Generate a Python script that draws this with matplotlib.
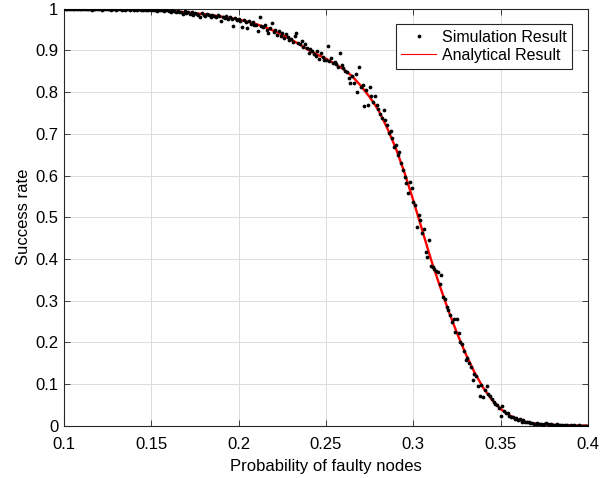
import numpy as np
import matplotlib
matplotlib.use("Agg")
import matplotlib.pyplot as plt
from matplotlib.lines import Line2D

plt.rcParams['font.family'] = ['Liberation Sans', 'DejaVu Sans']

# Analytical curve (read every 0.005)
ana_x = [0.100, 0.105, 0.110, 0.115, 0.120, 0.125, 0.130, 0.135, 0.140, 0.145,
         0.150, 0.155, 0.160, 0.165, 0.170, 0.175, 0.180, 0.185, 0.190, 0.195,
         0.200, 0.205, 0.210, 0.215, 0.220, 0.225, 0.230, 0.235, 0.240, 0.245,
         0.250, 0.255, 0.260, 0.265, 0.270, 0.275, 0.280, 0.285, 0.290, 0.295,
         0.300, 0.305, 0.310, 0.315, 0.320, 0.325, 0.330, 0.335, 0.340, 0.345,
         0.350, 0.355, 0.360, 0.365, 0.370, 0.375, 0.380, 0.385, 0.390, 0.395,
         0.400]
ana_y = [1.000, 1.000, 1.000, 1.000, 1.000, 0.999, 0.999, 0.999, 0.998, 0.998,
         0.997, 0.996, 0.995, 0.993, 0.991, 0.989, 0.987, 0.984, 0.981, 0.978,
         0.974, 0.969, 0.963, 0.956, 0.947, 0.937, 0.926, 0.914, 0.901, 0.890,
         0.880, 0.868, 0.855, 0.838, 0.815, 0.788, 0.757, 0.714, 0.665, 0.606,
         0.540, 0.470, 0.400, 0.337, 0.277, 0.222, 0.172, 0.128, 0.091, 0.062,
         0.040, 0.025, 0.015, 0.008, 0.005, 0.003, 0.002, 0.001, 0.0005, 0.0002,
         0.0001]

# Simulation results, x = 0.100 ... 0.400 step 0.001
sim_start, sim_stop, sim_step = 0.100, 0.400, 0.001
sim_y = [
    1.000, 1.000, 0.999, 1.000, 1.000, 0.999, 1.000, 1.000, 0.999, 1.000,
    1.000, 0.999, 1.000, 0.999, 1.000, 1.000, 0.998, 1.000, 0.999, 1.000,
    0.999, 1.000, 0.998, 1.000, 0.999, 0.999, 1.000, 0.998, 0.999, 1.000,
    0.998, 0.999, 1.000, 0.997, 0.999, 0.998, 1.000, 0.999, 0.997, 0.999,
    0.998, 0.999, 0.997, 1.000, 0.998, 0.996, 0.999, 0.998, 0.997, 0.999,
    0.996, 0.998, 0.997, 0.995, 0.998, 0.996, 0.997, 0.994, 0.996, 0.997,
    0.995, 0.993, 0.996, 0.994, 0.991, 0.995, 0.992, 0.993, 0.988, 0.994,
    0.990, 0.992, 0.987, 0.991, 0.986, 0.990, 0.988, 0.985, 0.979, 0.989,
    0.986, 0.983, 0.988, 0.984, 0.981, 0.986, 0.983, 0.979, 0.985, 0.982,
    0.970, 0.981, 0.978, 0.983, 0.975, 0.979, 0.976, 0.958, 0.978, 0.974,
    0.976, 0.970, 0.957, 0.972, 0.968, 0.954, 0.971, 0.964, 0.967, 0.962,
    0.960, 0.946, 0.981, 0.958, 0.955, 0.961, 0.950, 0.942, 0.953, 0.965,
    0.944, 0.950, 0.938, 0.946, 0.935, 0.942, 0.930, 0.939, 0.933, 0.925,
    0.928, 0.920, 0.935, 0.941, 0.918, 0.915, 0.922, 0.908, 0.916, 0.905,
    0.893, 0.904, 0.898, 0.892, 0.887, 0.899, 0.880, 0.894, 0.884, 0.877,
    0.878, 0.911, 0.875, 0.882, 0.870, 0.873, 0.868, 0.860, 0.893, 0.866,
    0.857, 0.851, 0.848, 0.833, 0.823, 0.838, 0.821, 0.843, 0.801, 0.859,
    0.812, 0.818, 0.767, 0.805, 0.769, 0.813, 0.790, 0.777, 0.791, 0.770,
    0.760, 0.748, 0.739, 0.757, 0.733, 0.720, 0.703, 0.706, 0.690, 0.668,
    0.672, 0.650, 0.657, 0.629, 0.612, 0.596, 0.581, 0.557, 0.585, 0.569,
    0.537, 0.530, 0.476, 0.505, 0.493, 0.461, 0.471, 0.417, 0.404, 0.445,
    0.383, 0.380, 0.376, 0.372, 0.368, 0.340, 0.361, 0.309, 0.303, 0.285,
    0.277, 0.266, 0.249, 0.256, 0.225, 0.255, 0.222, 0.201, 0.195, 0.180,
    0.158, 0.163, 0.150, 0.141, 0.110, 0.124, 0.119, 0.095, 0.071, 0.098,
    0.070, 0.085, 0.095, 0.076, 0.071, 0.063, 0.058, 0.052, 0.049, 0.042,
    0.023, 0.047, 0.036, 0.030, 0.031, 0.024, 0.021, 0.022, 0.016, 0.018,
    0.014, 0.016, 0.010, 0.013, 0.009, 0.008, 0.010, 0.006, 0.007, 0.005,
    0.004, 0.006, 0.003, 0.005, 0.002, 0.004, 0.007, 0.003, 0.002, 0.003,
    0.002, 0.001, 0.003, 0.001, 0.002, 0.001, 0.000, 0.002, 0.001, 0.000,
    0.001, 0.000, 0.001, 0.000, 0.000, 0.001, 0.000, 0.000, 0.000, 0.000,
    0.000,
]
sim_x = np.round(sim_start + sim_step * np.arange(len(sim_y)), 3)

x_ticks = [0.1, 0.15, 0.2, 0.25, 0.3, 0.35, 0.4]
x_tick_labels = ['0.1', '0.15', '0.2', '0.25', '0.3', '0.35', '0.4']
y_ticks = [0, 0.1, 0.2, 0.3, 0.4, 0.5, 0.6, 0.7, 0.8, 0.9, 1]
y_tick_labels = ['0', '0.1', '0.2', '0.3', '0.4', '0.5', '0.6', '0.7', '0.8', '0.9', '1']

fig = plt.figure(figsize=(6.14, 4.78), dpi=100)
ax = fig.add_axes([64 / 614, 52.3 / 478, 524 / 614, 417 / 478])

ax.plot(ana_x, ana_y, color='red', lw=1.7, zorder=2)
ax.plot(sim_x, sim_y, linestyle='none', marker='o', markersize=2.7,
        color='black', markeredgewidth=0, zorder=3)

ax.set_xlim(0.1, 0.4)
ax.set_ylim(0, 1)
ax.set_xticks(x_ticks)
ax.set_xticklabels(x_tick_labels)
ax.set_yticks(y_ticks)
ax.set_yticklabels(y_tick_labels)
ax.grid(True, color='#dcdcdc', lw=0.7)
ax.set_axisbelow(True)
ax.tick_params(direction='in', top=True, right=True, length=4, width=0.6,
               colors='#262626', labelsize=12, labelcolor='black')
ax.tick_params(axis='x', pad=8)
ax.tick_params(axis='y', pad=4)
for s in ax.spines.values():
    s.set_color('#262626')
    s.set_linewidth(0.8)

ax.set_xlabel('Probability of faulty nodes', fontsize=12, labelpad=5)
ax.set_ylabel('Success rate', fontsize=12, labelpad=3)

handles = [Line2D([], [], linestyle='none', marker='o', markersize=2.7,
                  color='black', markeredgewidth=0),
           Line2D([], [], color='red', lw=0.8)]
leg = ax.legend(handles, ['Simulation Result', 'Analytical Result'],
                loc='upper right', bbox_to_anchor=(0.97, 0.963),
                fontsize=11.5, fancybox=False, framealpha=1,
                edgecolor='#262626', handlelength=2.2, borderpad=0.35,
                labelspacing=0.2, handletextpad=0.35, borderaxespad=0)
leg.get_frame().set_linewidth(0.8)

fig.savefig('out.png', dpi=100)
